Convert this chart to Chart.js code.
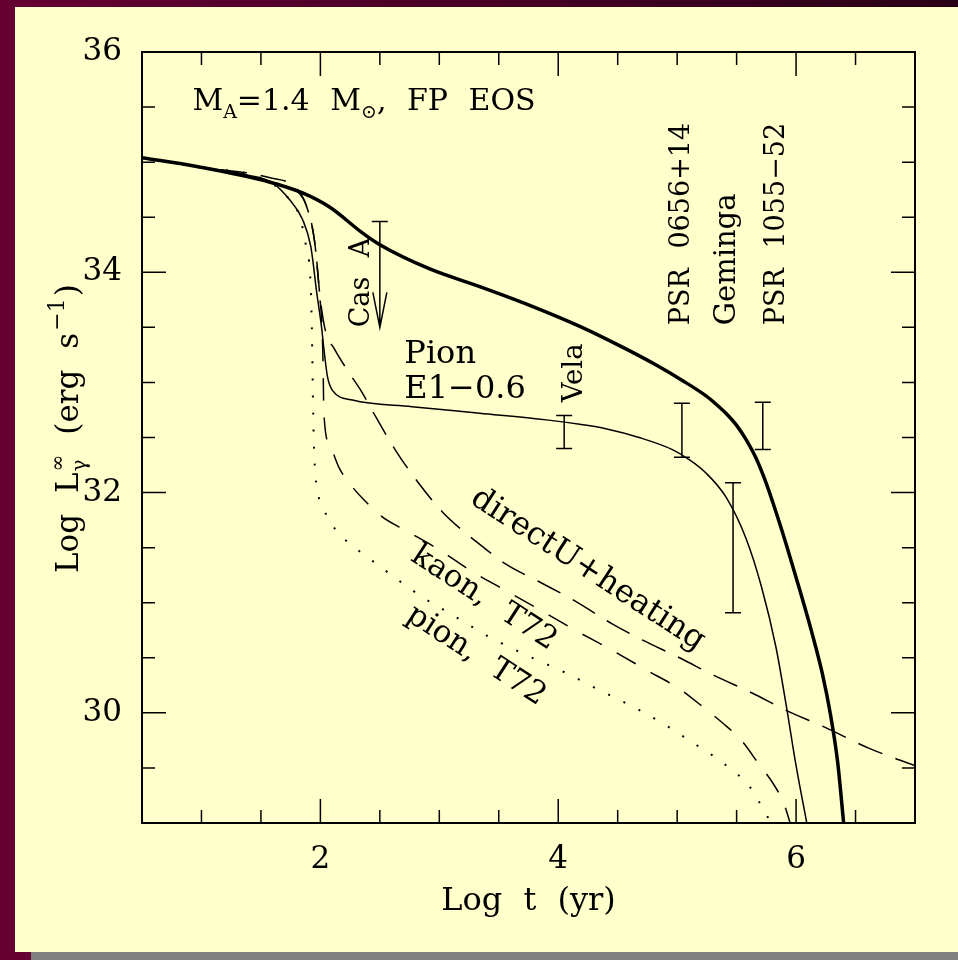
<!DOCTYPE html>
<html>
<head>
<meta charset="utf-8">
<script src="https://cdn.jsdelivr.net/npm/chart.js@4.4.0/dist/chart.umd.min.js"></script>
<style>
html, body { margin: 0; padding: 0; }
body { width: 958px; height: 960px; position: relative; overflow: hidden; background: #660033; }
#topbar { position: absolute; left: 0; top: 0; width: 958px; height: 7px; background: linear-gradient(to right, #660033, #2a0016); }
#panel { position: absolute; left: 15px; top: 7px; width: 943px; height: 945px; background: #ffffcc; }
#grey { position: absolute; left: 31px; top: 952px; width: 927px; height: 8px; background: #808080; }
#wrap { position: absolute; left: 0; top: 0; }
</style>
</head>
<body>
<div id="topbar"></div>
<div id="panel"></div>
<div id="grey"></div>
<div id="wrap"><canvas id="coolChart" width="958" height="960"></canvas></div>
<script>
// tick labels
var xTickValues = [2, 4, 6];
var yTickValues = [30, 32, 34, 36];

// standard cooling (thick solid)
var stdLogT = [0.5, 0.96, 1.57, 1.85, 2.08, 2.35, 2.5, 2.92, 3.34, 3.76, 4.2, 4.54, 4.82, 5.04, 5.24, 5.33, 5.41, 5.5, 5.58, 5.66, 5.74, 5.82, 5.92, 6.03, 6.13, 6.22, 6.29, 6.35, 6.4];
var stdLogL = [35.04, 34.96, 34.82, 34.72, 34.59, 34.36, 34.25, 34.03, 33.87, 33.7, 33.5, 33.32, 33.16, 33.02, 32.88, 32.8, 32.72, 32.61, 32.48, 32.32, 32.11, 31.86, 31.52, 31.12, 30.74, 30.36, 29.98, 29.55, 29.0];

// Pion E1-0.6 (thin solid)
var pionE1LogT = [0.5, 0.96, 1.4, 1.6, 1.74, 1.85, 1.92, 1.97, 2.01, 2.03, 2.06, 2.1, 2.27, 2.77, 3.34, 3.9, 4.18, 4.4, 4.68, 4.96, 5.1, 5.24, 5.41, 5.58, 5.71, 5.83, 5.92, 6.0, 6.09];
var pionE1LogL = [35.04, 34.96, 34.88, 34.81, 34.66, 34.48, 34.23, 33.81, 33.5, 33.3, 33.05, 32.93, 32.84, 32.78, 32.72, 32.66, 32.62, 32.58, 32.5, 32.39, 32.3, 32.18, 31.96, 31.58, 31.14, 30.6, 30.05, 29.52, 29.0];

// directU + heating (long dashes)
var durcaLogT = [0.5, 0.96, 1.57, 1.8, 1.88, 1.95, 2.0, 2.04, 2.12, 2.24, 2.35, 2.47, 2.64, 2.83, 3.03, 3.19, 3.34, 3.56, 3.84, 4.15, 4.45, 4.71, 5.02, 5.31, 5.63, 5.92, 6.24, 6.61, 7.0];
var durcaLogL = [35.04, 34.96, 34.86, 34.76, 34.61, 34.29, 33.75, 33.48, 33.3, 33.09, 32.91, 32.68, 32.37, 32.08, 31.82, 31.66, 31.53, 31.35, 31.19, 31.01, 30.81, 30.66, 30.5, 30.34, 30.18, 30.02, 29.87, 29.68, 29.52];

// kaon, T72 (short dashes)
var kaonLogT = [0.5, 0.96, 1.57, 1.8, 1.88, 1.95, 1.99, 2.02, 2.03, 2.08, 2.16, 2.27, 2.37, 2.52, 2.71, 3.0, 3.28, 3.56, 3.87, 4.16, 4.45, 4.74, 5.03, 5.21, 5.38, 5.54, 5.69, 5.8, 5.9, 5.95];
var kaonLogL = [35.04, 34.96, 34.82, 34.74, 34.61, 34.29, 33.84, 33.3, 32.71, 32.43, 32.22, 32.05, 31.93, 31.78, 31.66, 31.48, 31.28, 31.11, 30.92, 30.74, 30.57, 30.39, 30.21, 30.06, 29.91, 29.75, 29.53, 29.37, 29.17, 29.0];

// pion, T72 (dotted)
var pionT72LogT = [0.5, 0.96, 1.57, 1.74, 1.82, 1.88, 1.92, 1.93, 1.94, 1.95, 1.97, 2.02, 2.13, 2.24, 2.35, 2.5, 2.61, 2.86, 3.14, 3.42, 3.76, 4.07, 4.34, 4.62, 4.87, 5.13, 5.38, 5.61, 5.69, 5.79];
var pionT72LogL = [35.04, 34.96, 34.82, 34.66, 34.52, 34.23, 33.84, 33.39, 32.69, 32.3, 32.05, 31.87, 31.66, 31.54, 31.45, 31.33, 31.24, 31.05, 30.87, 30.69, 30.51, 30.36, 30.21, 30.06, 29.91, 29.73, 29.55, 29.33, 29.19, 29.0];

// observations (Cas A is an upper limit)
var obsNames = ['Cas A', 'Vela', 'PSR 0656+14', 'Geminga', 'PSR 1055\u221252'];
var obsLogT = [2.5, 4.05, 5.04, 5.47, 5.72];
var obsLogLHigh = [34.46, 32.7, 32.81, 32.09, 32.82];
var obsLogLLow = [33.5, 32.4, 32.32, 30.91, 32.39];

var FONT = 'DejaVu Serif';

function toPoints(xs, ys) {
    return xs.map(function (x, i) { return { x: x, y: ys[i] }; });
}

function curve(label, xs, ys, width, dash) {
    return {
        label: label,
        data: toPoints(xs, ys),
        showLine: true,
        borderColor: '#000',
        borderWidth: width,
        borderDash: dash,
        pointRadius: 0,
        cubicInterpolationMode: 'monotone',
        fill: false
    };
}

function rotText(c, txt, x, y, deg) {
    c.save();
    c.translate(x, y);
    c.rotate(deg * Math.PI / 180);
    c.fillText(txt, 0, 0);
    c.restore();
}

// pieces [text, size, shift, gap, noAdvance] placed one after the other along the baseline
function richText(c, parts, x, y, deg) {
    c.save();
    c.translate(x, y);
    c.rotate(deg * Math.PI / 180);
    var pos = 0;
    parts.forEach(function (p) {
        c.font = p[1] + 'px "' + FONT + '"';
        c.fillText(p[0], pos + (p[3] || 0), p[2]);
        if (!p[4]) pos += c.measureText(p[0]).width + (p[3] || 0);
    });
    c.restore();
}

var framePlugin = {
    id: 'frame',
    beforeDraw: function (chart) {
        // the original plot font has wide word gaps
        chart.ctx.wordSpacing = '11px';
    },
    afterDatasetsDraw: function (chart) {
        var c = chart.ctx, a = chart.chartArea;
        var xs = chart.scales.x, ys = chart.scales.y;
        var v, p, len, i;
        c.save();
        c.strokeStyle = '#000';
        c.fillStyle = '#000';

        c.lineWidth = 2;
        c.strokeRect(a.left, a.top, a.right - a.left, a.bottom - a.top);

        c.lineWidth = 1.5;
        c.beginPath();
        for (v = xs.min; v <= xs.max + 1e-6; v += 0.5) {
            p = xs.getPixelForValue(v);
            len = (v % 2 === 0) ? 24 : 13;
            c.moveTo(p, a.bottom); c.lineTo(p, a.bottom - len);
            c.moveTo(p, a.top); c.lineTo(p, a.top + len);
        }
        for (v = ys.min; v <= ys.max + 1e-6; v += 0.5) {
            p = ys.getPixelForValue(v);
            len = (v % 2 === 0) ? 24 : 13;
            c.moveTo(a.left, p); c.lineTo(a.left + len, p);
            c.moveTo(a.right, p); c.lineTo(a.right - len, p);
        }
        c.stroke();

        // error bars
        c.lineWidth = 1.5;
        c.beginPath();
        for (i = 0; i < obsLogT.length; i++) {
            var px = xs.getPixelForValue(obsLogT[i]);
            var hi = ys.getPixelForValue(obsLogLHigh[i]);
            var lo = ys.getPixelForValue(obsLogLLow[i]);
            c.moveTo(px, hi); c.lineTo(px, lo);
            c.moveTo(px - 8, hi); c.lineTo(px + 8, hi);
            if (i === 0) {
                c.moveTo(px - 7, lo - 35); c.lineTo(px, lo); c.lineTo(px + 7, lo - 35);
            } else {
                c.moveTo(px - 8, lo); c.lineTo(px + 8, lo);
            }
        }
        c.stroke();

        // labels
        c.textAlign = 'left';
        c.textBaseline = 'alphabetic';
        c.font = '27px "' + FONT + '"';
        rotText(c, obsNames[0], xs.getPixelForValue(2.41), ys.getPixelForValue(33.5), -90);
        c.font = '27.5px "' + FONT + '"';
        rotText(c, obsNames[1], xs.getPixelForValue(4.2), ys.getPixelForValue(32.82), -90);
        c.font = '27px "' + FONT + '"';
        rotText(c, obsNames[2], xs.getPixelForValue(5.1), ys.getPixelForValue(33.52), -90);
        rotText(c, obsNames[4], xs.getPixelForValue(5.9), ys.getPixelForValue(33.52), -90);
        c.font = '29px "' + FONT + '"';
        rotText(c, obsNames[3], xs.getPixelForValue(5.49), ys.getPixelForValue(33.52), -90);

        c.font = '32px "' + FONT + '"';
        c.fillText('Pion', xs.getPixelForValue(2.706), ys.getPixelForValue(33.18));
        c.fillText('E1\u22120.6', xs.getPixelForValue(2.706), ys.getPixelForValue(32.86));

        c.font = '32px "' + FONT + '"';
        rotText(c, 'directU+heating', xs.getPixelForValue(3.25), ys.getPixelForValue(31.91), 33);
        c.font = '31px "' + FONT + '"';
        rotText(c, 'kaon, T72', xs.getPixelForValue(2.75), ys.getPixelForValue(31.39), 33);
        rotText(c, 'pion, T72', xs.getPixelForValue(2.71), ys.getPixelForValue(30.85), 33);

        richText(c, [['M', 30, 0], ['A', 19, 8], ['=1.4 M', 30, 0], ['\u2299', 19, 8], [', FP EOS', 30, 0]],
            xs.getPixelForValue(0.924), ys.getPixelForValue(35.47), 0);

        // y axis title
        richText(c, [['Log L', 31, 0], ['\u221e', 20, -14, 1, true], ['\u03b3', 20, 8, 1],
            [' (erg s', 31, 0, 4], ['\u22121', 22, -14, 2], [')', 31, 0, 2]],
            a.left - 64, 573, -90);
        c.restore();
    }
};

var datasets = [
    curve('pion, T72', pionT72LogT, pionT72LogL, 2, [2, 15]),
    curve('kaon, T72', kaonLogT, kaonLogL, 1.5, [22, 17]),
    curve('directU+heating', durcaLogT, durcaLogL, 1.5, [26, 14]),
    curve('Pion E1-0.6', pionE1LogT, pionE1LogL, 1.5, []),
    curve('standard', stdLogT, stdLogL, 3.5, [])
];

new Chart(document.getElementById('coolChart').getContext('2d'), {
    type: 'scatter',
    data: { datasets: datasets },
    options: {
        responsive: false,
        animation: false,
        layout: { padding: { left: 0, right: 43, top: 52, bottom: 0 } },
        plugins: { legend: { display: false }, tooltip: { enabled: false } },
        scales: {
            x: {
                type: 'linear', min: 0.5, max: 7,
                grid: { display: false, drawTicks: false },
                border: { display: false },
                afterBuildTicks: function (s) { s.ticks = xTickValues.map(function (v) { return { value: v }; }); },
                afterFit: function (s) { s.height = 137; },
                ticks: { color: '#000', font: { family: FONT, size: 31 }, padding: 18, maxRotation: 0 },
                title: { display: true, text: 'Log t (yr)', color: '#000', font: { family: FONT, size: 32 }, padding: { top: 0, bottom: 39 } }
            },
            y: {
                type: 'linear', min: 29, max: 36,
                grid: { display: false, drawTicks: false },
                border: { display: false },
                afterBuildTicks: function (s) { s.ticks = yTickValues.map(function (v) { return { value: v }; }); },
                afterFit: function (s) { s.width = 142; },
                ticks: { color: '#000', font: { family: FONT, size: 31 }, padding: 20 }
            }
        }
    },
    plugins: [framePlugin]
});
</script>
</body>
</html>
